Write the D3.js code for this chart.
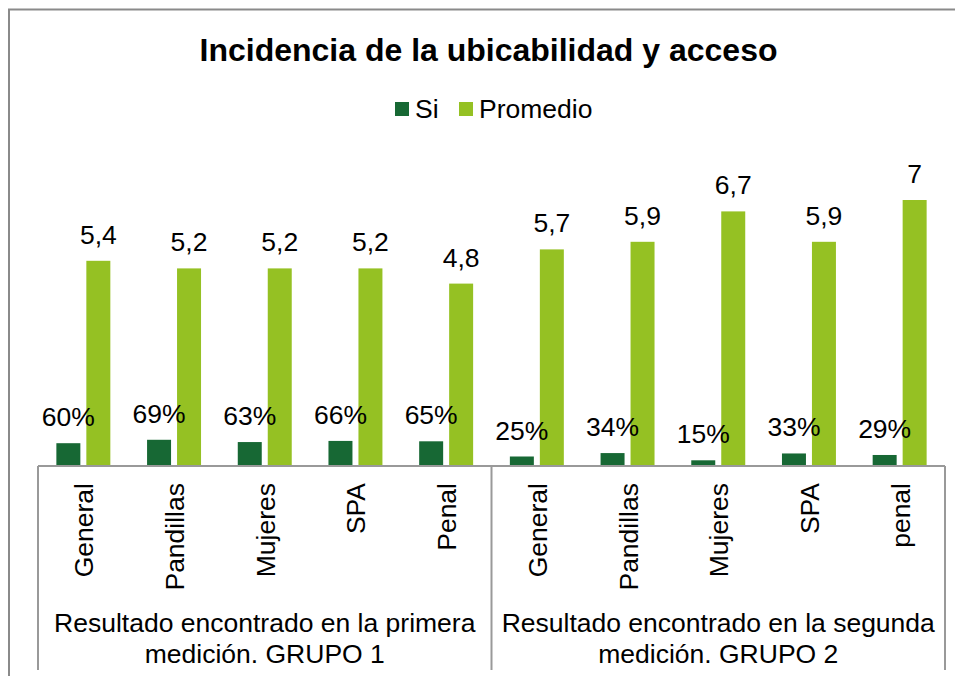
<!DOCTYPE html>
<html>
<head>
<meta charset="utf-8">
<script src="https://cdn.jsdelivr.net/npm/d3@7"></script>
<style>
  html, body { margin: 0; padding: 0; background: #fff; }
  svg { display: block; font-family: "Liberation Sans", Arial, sans-serif; }
</style>
</head>
<body>
<svg id="chart" width="955" height="676"></svg>
<script>
// ---- data ----
const title = "Incidencia de la ubicabilidad y acceso";
const seriesNames = ["Si", "Promedio"];
const categories = ["General", "Pandillas", "Mujeres", "SPA", "Penal",
                    "General", "Pandillas", "Mujeres", "SPA", "penal"];
const groupLabels = [
  ["Resultado encontrado en la primera", "medición. GRUPO 1"],
  ["Resultado encontrado en la segunda", "medición. GRUPO 2"]
];
const siValues = [0.60, 0.69, 0.63, 0.66, 0.65, 0.25, 0.34, 0.15, 0.33, 0.29];
const siLabels = ["60%", "69%", "63%", "66%", "65%", "25%", "34%", "15%", "33%", "29%"];
const promedioValues = [5.4, 5.2, 5.2, 5.2, 4.8, 5.7, 5.9, 6.7, 5.9, 7];
const promedioLabels = ["5,4", "5,2", "5,2", "5,2", "4,8", "5,7", "5,9", "6,7", "5,9", "7"];
const colors = ["#176834", "#95C123"];

const svg = d3.select("#chart");
const FS = 26.5;

// outer frame
svg.append("rect").attr("x", 9).attr("y", 9.5).attr("width", 1000).attr("height", 700)
  .attr("fill", "none").attr("stroke", "#8a8a8a").attr("stroke-width", 2);

// title
svg.append("text").attr("x", 488.5).attr("y", 61).attr("text-anchor", "middle")
  .attr("font-size", 32).attr("font-weight", "bold").attr("fill", "#000").text(title);

// legend
const legendX = [395, 459];
seriesNames.forEach((s, i) => {
  svg.append("rect").attr("x", legendX[i]).attr("y", 102).attr("width", 14).attr("height", 14)
    .attr("fill", colors[i]);
  svg.append("text").attr("x", legendX[i] + 20).attr("y", 117.5)
    .attr("font-size", FS).attr("fill", "#000").text(s);
});

// scales
const left = 38, right = 945, base = 466;
const idx = d3.range(categories.length);
const x0 = d3.scaleBand().domain(idx).range([left, right]).paddingInner(0.405).paddingOuter(0.2025);
const x1 = d3.scaleBand().domain(seriesNames).range([0, x0.bandwidth()]).paddingInner(0.2).paddingOuter(0);
const y = d3.scaleLinear().domain([0, 8]).range([base, base - 8 * 38]);

const step = (right - left) / categories.length;

// bars
const series = [
  { name: "Si", values: siValues, labels: siLabels },
  { name: "Promedio", values: promedioValues, labels: promedioLabels }
];
series.forEach((s, si) => {
  svg.append("g").selectAll("rect").data(idx).join("rect")
    .attr("x", i => x0(i) + x1(s.name))
    .attr("y", i => y(s.values[i]))
    .attr("width", x1.bandwidth())
    .attr("height", i => y(0) - y(s.values[i]))
    .attr("fill", colors[si]);
});
// value labels (drawn above all bars)
series.forEach((s) => {
  svg.append("g").selectAll("text").data(idx).join("text")
    .attr("x", i => x0(i) + x1(s.name) + x1.bandwidth() / 2)
    .attr("y", i => y(s.values[i]) - 17)
    .attr("text-anchor", "middle")
    .attr("font-size", FS).attr("fill", "#000")
    .text(i => s.labels[i]);
});

// axis line & group separators
const axisColor = "#999";
svg.append("line").attr("x1", left).attr("x2", right).attr("y1", base).attr("y2", base)
  .attr("stroke", axisColor).attr("stroke-width", 2);
[left, left + step * 5, right].forEach(xx => {
  svg.append("line").attr("x1", xx).attr("x2", xx).attr("y1", base).attr("y2", 670)
    .attr("stroke", axisColor).attr("stroke-width", 2);
});

// category labels (rotated)
svg.append("g").selectAll("text").data(idx).join("text")
  .attr("transform", i => `translate(${x0(i) + x0.bandwidth() / 2 + 10},483) rotate(-90)`)
  .attr("text-anchor", "end")
  .attr("font-size", FS).attr("fill", "#000")
  .text(i => categories[i]);

// group labels
groupLabels.forEach((lines, gi) => {
  const cx = left + step * 5 * gi + step * 2.5;
  lines.forEach((ln, li) => {
    svg.append("text").attr("x", cx).attr("y", 632 + li * 31)
      .attr("text-anchor", "middle").attr("font-size", FS).attr("fill", "#000").text(ln);
  });
});
</script>
</body>
</html>
